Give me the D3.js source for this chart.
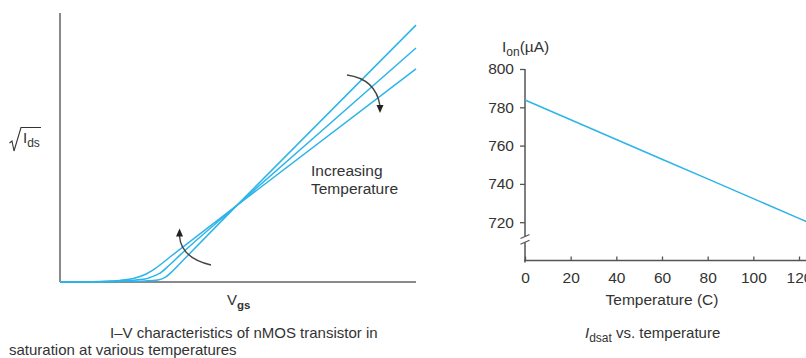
<!DOCTYPE html>
<html>
<head>
<meta charset="utf-8">
<script src="https://cdn.jsdelivr.net/npm/d3@7"></script>
<style>
  body { margin: 0; background: #fff; }
  svg { display: block; font-family: "Liberation Sans", Arial, sans-serif; }
  text { fill: #333; }
</style>
</head>
<body>
<div id="chart"></div>
<script>
const width = 806
const height = 358

// left panel: sqrt(Ids) vs Vgs, arbitrary units 0..100, three temperatures
const vgsLow = [0, 16.9, 23.9, 27.5, 29.5, 31.5, 33.7, 49.7, 100]
const idsLow = [0, 0.2, 0.4, 0.7, 1.7, 3.9, 6.9, 28.5, 95.5]
const vgsMid = [0, 14.0, 19.7, 23.9, 25.3, 28.1, 30.9, 33.7, 49.7, 100]
const idsMid = [0, 0.2, 0.6, 1.1, 1.7, 3.3, 6.5, 10.0, 28.5, 87.0]
const vgsHigh = [0, 11.2, 16.9, 21.1, 23.9, 26.7, 30.9, 49.7, 100]
const idsHigh = [0, 0.2, 0.6, 1.5, 2.8, 5.0, 9.3, 28.5, 79.2]

// right panel: Ion vs temperature
const temps = [0, 20, 40, 60, 80, 100, 120, 125]
const ion = [783.8, 773.5, 763.2, 752.9, 742.6, 732.3, 722.0, 719.4]
const tempTicks = [0, 20, 40, 60, 80, 100, 120]
const ionTicks = [720, 740, 760, 780, 800]

const blue = '#2db4e8'

const svg = d3.select('#chart').append('svg')
  .attr('width', width)
  .attr('height', height)

// ---------- left panel ----------
const xL = d3.scaleLinear().domain([0, 100]).range([60, 416])
const yL = d3.scaleLinear().domain([0, 100]).range([282, 13])

const left = svg.append('g')

left.append('line')
  .attr('x1', xL(0)).attr('x2', xL(0))
  .attr('y1', yL(0)).attr('y2', yL(100))
  .attr('stroke', '#8a8a8a').attr('stroke-width', 2)
left.append('line')
  .attr('x1', xL(0)).attr('x2', xL(100))
  .attr('y1', yL(0)).attr('y2', yL(0))
  .attr('stroke', '#8a8a8a').attr('stroke-width', 2)

const lineL = d3.line()
  .x(d => xL(d[0]))
  .y(d => yL(d[1]))
  .curve(d3.curveMonotoneX)

const curves = [
  d3.zip(vgsLow, idsLow),
  d3.zip(vgsMid, idsMid),
  d3.zip(vgsHigh, idsHigh)
]

left.selectAll('.iv')
  .data(curves)
  .enter().append('path')
  .attr('class', 'iv')
  .attr('d', lineL)
  .attr('fill', 'none')
  .attr('stroke', blue)
  .attr('stroke-width', 1.5)

// arrows
const arrowCol = '#444'
left.append('path')
  .attr('d', 'M347,75 Q376,79 380,106')
  .attr('fill', 'none').attr('stroke', arrowCol).attr('stroke-width', 1.4)
left.append('path')
  .attr('d', 'M376.5,105 L383.5,105 L380,113 Z')
  .attr('fill', '#222')
left.append('path')
  .attr('d', 'M211,265 Q181,258 179.5,236')
  .attr('fill', 'none').attr('stroke', arrowCol).attr('stroke-width', 1.4)
left.append('path')
  .attr('d', 'M176,236.5 L183,236.5 L179.5,228.5 Z')
  .attr('fill', '#222')

left.append('text').attr('x', 311).attr('y', 176)
  .attr('font-size', 15.5).text('Increasing')
left.append('text').attr('x', 311).attr('y', 193.5)
  .attr('font-size', 15.5).text('Temperature')

// sqrt(Ids) label
left.append('path')
  .attr('d', 'M9.5,143 L12,141 L14,151 L21,127.5 L41,127.5')
  .attr('fill', 'none').attr('stroke', '#333').attr('stroke-width', 1.1)
const ylab = left.append('text').attr('x', 23).attr('y', 143).attr('font-size', 15)
ylab.append('tspan').text('I')
ylab.append('tspan').attr('dy', 3.5).attr('font-size', 12).text('ds')

const xlab = left.append('text').attr('x', 227).attr('y', 305).attr('font-size', 15)
xlab.append('tspan').text('V')
xlab.append('tspan').attr('dy', 4).attr('font-size', 11.5).attr('font-weight', 'bold').text('gs')

left.append('text').attr('x', 110).attr('y', 337.5)
  .attr('font-size', 15).text('I–V characteristics of nMOS transistor in')
left.append('text').attr('x', 9).attr('y', 355)
  .attr('font-size', 15).text('saturation at various temperatures')

// ---------- right panel ----------
const xR = d3.scaleLinear().domain([0, 120]).range([525, 799])
const yR = d3.scaleLinear().domain([700, 800]).range([260.5, 69])

const right = svg.append('g')

const xAxis = d3.axisBottom(xR)
  .tickValues(tempTicks)
  .tickSize(-4)
  .tickPadding(11)
right.append('g')
  .attr('transform', 'translate(0,' + yR(700) + ')')
  .call(xAxis)
  .call(g => g.select('.domain').remove())
  .call(g => g.selectAll('.tick line').attr('stroke', '#555').attr('stroke-width', 1.3))
  .call(g => g.selectAll('.tick text').attr('font-size', 15.5).attr('fill', '#333')
    .attr('font-family', '"Liberation Sans", Arial, sans-serif'))
right.append('line')
  .attr('x1', xR(0) - 1).attr('x2', width)
  .attr('y1', yR(700)).attr('y2', yR(700))
  .attr('stroke', '#555').attr('stroke-width', 1.5)

const yAxis = d3.axisLeft(yR)
  .tickValues(ionTicks)
  .tickSize(5)
  .tickPadding(6)
right.append('g')
  .attr('transform', 'translate(' + xR(0) + ',0)')
  .call(yAxis)
  .call(g => g.select('.domain').remove())
  .call(g => g.selectAll('.tick line').attr('stroke', '#555').attr('stroke-width', 1.3))
  .call(g => g.selectAll('.tick text').attr('font-size', 15.5).attr('fill', '#333')
    .attr('font-family', '"Liberation Sans", Arial, sans-serif'))

// y axis line with break
right.append('line')
  .attr('x1', xR(0)).attr('x2', xR(0))
  .attr('y1', yR(800)).attr('y2', yR(712.5))
  .attr('stroke', '#555').attr('stroke-width', 1.5)
right.append('line')
  .attr('x1', xR(0)).attr('x2', xR(0))
  .attr('y1', yR(709.5)).attr('y2', yR(700) + 2)
  .attr('stroke', '#555').attr('stroke-width', 1.5)
right.append('line')
  .attr('x1', xR(0) - 4.5).attr('x2', xR(0) + 4.5)
  .attr('y1', yR(712.5) + 2).attr('y2', yR(712.5) - 2)
  .attr('stroke', '#555').attr('stroke-width', 1.2)
right.append('line')
  .attr('x1', xR(0) - 4.5).attr('x2', xR(0) + 4.5)
  .attr('y1', yR(709.5) + 2).attr('y2', yR(709.5) - 2)
  .attr('stroke', '#555').attr('stroke-width', 1.2)

right.append('path')
  .datum(d3.zip(temps, ion))
  .attr('d', d3.line().x(d => xR(d[0])).y(d => yR(d[1])))
  .attr('fill', 'none')
  .attr('stroke', blue)
  .attr('stroke-width', 1.5)

const ionLab = right.append('text').attr('x', 502).attr('y', 52).attr('font-size', 15.5)
ionLab.append('tspan').text('I')
ionLab.append('tspan').attr('dy', 4).attr('font-size', 12).text('on')
ionLab.append('tspan').attr('dy', -4).text('(µA)')

right.append('text').attr('x', xR(60)).attr('y', 305)
  .attr('text-anchor', 'middle').attr('font-size', 15.5).text('Temperature (C)')

const cap = right.append('text').attr('x', 585).attr('y', 338).attr('font-size', 15)
cap.append('tspan').attr('font-style', 'italic').text('I')
cap.append('tspan').attr('dy', 4).attr('font-size', 12).text('dsat')
cap.append('tspan').attr('dy', -4).text(' vs. temperature')
</script>
</body>
</html>
